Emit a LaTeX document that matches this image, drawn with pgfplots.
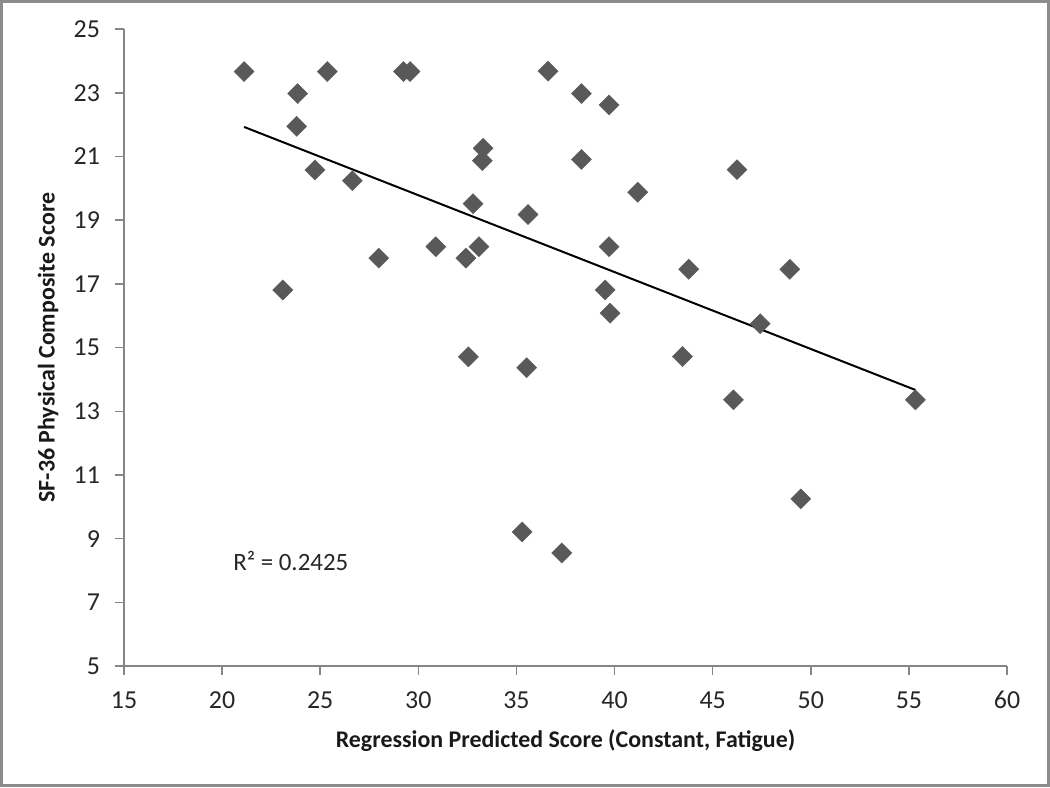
\documentclass[border=0pt]{standalone}
\usepackage{pgfplots}
\pgfplotsset{compat=1.18}
\usepackage{fontspec}
\setmainfont{Carlito}
\definecolor{markgray}{HTML}{595959}
\definecolor{axisgray}{HTML}{868686}
\definecolor{framegray}{HTML}{8C8C8C}

\begin{document}
\begin{tikzpicture}[x=1bp,y=1bp]
% outer chart frame
\draw[framegray, line width=1.5bp] (0.75,0.75) rectangle (524.25,392.75);
\begin{axis}[
    at={(62bp,60.5bp)}, anchor=south west,
    scale only axis,
    width=441.5bp, height=318.4bp,
    xmin=15, xmax=60, ymin=5, ymax=25,
    xtick={15,20,...,60}, ytick={5,7,...,25},
    axis lines*=left,
    axis line style={axisgray, line width=0.75bp},
    tick align=outside,
    major tick length=4.5bp,
    tick style={axisgray, line width=0.75bp},
    /pgf/number format/assume math mode=true,
    ticklabel style={font=\fontsize{13}{15}\selectfont, text=black!85},
    xticklabel style={anchor=center, yshift=-12.5bp},
    yticklabel style={anchor=east, xshift=-4bp},
    xlabel={\bfseries Regression Predicted Score (Constant, Fatigue)},
    ylabel={\bfseries SF-36 Physical Composite Score},
    label style={font=\fontsize{12}{14}\selectfont, text=black!90},
    xlabel style={at={(axis description cs:0.5,0)}, anchor=center, yshift=-37.5bp},
    ylabel style={at={(axis description cs:0,0.5)}, anchor=center, yshift=38bp},
    clip=false,
]
\addplot[only marks, mark=square*, mark size=3.55bp,
    mark options={rotate=45, fill=markgray, draw=markgray, line width=0.2bp}]
coordinates {
(21.12,23.67) (25.36,23.67) (29.24,23.67) (29.58,23.67)
(23.85,22.98) (23.80,21.95) (24.73,20.58) (26.64,20.24)
(33.30,21.26) (33.26,20.87) (32.79,19.52) (30.89,18.17)
(33.09,18.17) (32.42,17.81) (27.98,17.81) (23.09,16.81)
(36.61,23.68) (38.31,22.98) (39.72,22.62) (38.31,20.91)
(46.24,20.59) (41.18,19.88) (35.59,19.18) (39.72,18.17)
(43.78,17.46) (39.52,16.81) (48.93,17.46) (32.55,14.71)
(39.77,16.08) (35.52,14.37) (43.46,14.72) (47.42,15.75)
(46.06,13.36) (35.29,9.21) (37.31,8.55) (55.33,13.36)
(49.49,10.25)
};
% linear trendline
\addplot[black, line width=1bp] coordinates {(21.12,21.93) (55.33,13.67)};
\node[anchor=west, inner sep=0pt, font=\fontsize{12.5}{14}\selectfont, text=black!85]
    at (axis cs:20.55,8.3) {R² = 0.2425};
\end{axis}
\end{tikzpicture}
\end{document}
